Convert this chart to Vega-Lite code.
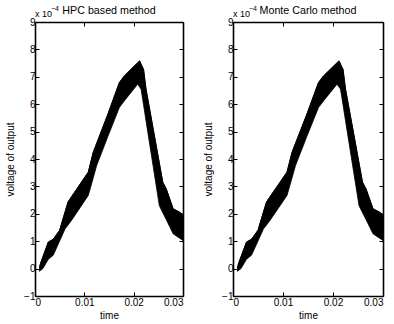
{
  "$schema": "https://vega.github.io/schema/vega-lite/v6.json",
  "padding": {"left": 5, "top": 5, "right": 0, "bottom": 0},
  "spacing": 18,
  "config": {
    "font": "Liberation Sans",
    "view": {"stroke": null},
    "axis": {
      "domainColor": "black", "tickColor": "black", "labelColor": "black", "titleColor": "black",
      "labelFontSize": 10, "titleFontSize": 10, "titleFontWeight": "normal",
      "domainWidth": 1.6, "tickWidth": 1, "tickSize": -4, "grid": false, "labelPadding": 4
    },
    "text": {"font": "Liberation Sans", "fontWeight": "normal", "fill": "black", "baseline": "alphabetic"}
  },
  "datasets": {
    "band": [
      {"t": 0.0009, "hi": 0.02, "lo": -0.10},
      {"t": 0.0011, "hi": 0.18, "lo": -0.07},
      {"t": 0.0016, "hi": 0.43, "lo": 0.00},
      {"t": 0.0027, "hi": 0.97, "lo": 0.34},
      {"t": 0.0037, "hi": 1.07, "lo": 0.49},
      {"t": 0.0050, "hi": 1.40, "lo": 1.01},
      {"t": 0.0061, "hi": 2.07, "lo": 1.45},
      {"t": 0.0067, "hi": 2.43, "lo": 1.59},
      {"t": 0.0074, "hi": 2.62, "lo": 1.76},
      {"t": 0.0108, "hi": 3.52, "lo": 2.67},
      {"t": 0.0118, "hi": 4.24, "lo": 3.31},
      {"t": 0.0125, "hi": 4.57, "lo": 3.76},
      {"t": 0.0147, "hi": 5.60, "lo": 4.79},
      {"t": 0.0171, "hi": 6.79, "lo": 5.88},
      {"t": 0.0181, "hi": 7.03, "lo": 6.12},
      {"t": 0.0208, "hi": 7.51, "lo": 6.73},
      {"t": 0.0212, "hi": 7.58, "lo": 6.63},
      {"t": 0.0215, "hi": 7.46, "lo": 6.55},
      {"t": 0.0220, "hi": 7.27, "lo": 5.98},
      {"t": 0.0225, "hi": 6.55, "lo": 5.40},
      {"t": 0.0252, "hi": 3.85, "lo": 2.30},
      {"t": 0.0259, "hi": 3.15, "lo": 2.04},
      {"t": 0.0266, "hi": 2.91, "lo": 1.79},
      {"t": 0.0280, "hi": 2.18, "lo": 1.27},
      {"t": 0.0293, "hi": 2.06, "lo": 1.11},
      {"t": 0.0300, "hi": 1.97, "lo": 1.03}
    ],
    "titles": [
      {"panel": "HPC", "x": 0.015, "y": 9, "label": "HPC based method"}
    ],
    "titles2": [
      {"panel": "MC", "x": 0.015, "y": 9, "label": "Monte Carlo method"}
    ],
    "exponent": [
      {"x": 0, "y": 9, "base": "x 10", "power": "−4"}
    ]
  },
  "hconcat": [
    {
      "width": 148, "height": 274,
      "layer": [
        {
          "data": {"name": "band"},
          "mark": {"type": "area", "color": "black", "stroke": "black", "strokeWidth": 0.8},
          "encoding": {
            "x": {"field": "t", "type": "quantitative", "scale": {"domain": [0, 0.03], "nice": false, "zero": false},
                  "axis": {"orient": "bottom", "values": [0, 0.01, 0.02, 0.03], "format": "~g", "title": "time", "labelPadding": 5, "titlePadding": 3}},
            "y": {"field": "hi", "type": "quantitative", "scale": {"domain": [-1, 9], "nice": false, "zero": false},
                  "axis": {"orient": "left", "values": [-1, 0, 1, 2, 3, 4, 5, 6, 7, 8, 9], "format": "~g", "title": "voltage of output", "titlePadding": 8}},
            "y2": {"field": "lo"}
          }
        },
        {
          "data": {"name": "band"},
          "mark": {"type": "line", "color": "black", "strokeWidth": 1},
          "encoding": {
            "x": {"field": "t", "type": "quantitative",
                  "axis": {"orient": "top", "values": [0, 0.01, 0.02, 0.03], "labels": false, "title": null}},
            "y": {"field": "hi", "type": "quantitative",
                  "axis": {"orient": "right", "values": [-1, 0, 1, 2, 3, 4, 5, 6, 7, 8, 9], "labels": false, "title": null}}
          }
        },
        {
          "data": {"name": "titles"},
          "mark": {"type": "text", "align": "center", "dy": -8, "fontSize": 10.7},
          "encoding": {
            "x": {"field": "x", "type": "quantitative", "axis": null},
            "y": {"field": "y", "type": "quantitative", "axis": null},
            "text": {"field": "label"}
          }
        },
        {
          "data": {"name": "exponent"},
          "mark": {"type": "text", "align": "left", "dy": -5, "fontSize": 9},
          "encoding": {
            "x": {"field": "x", "type": "quantitative", "axis": null},
            "y": {"field": "y", "type": "quantitative", "axis": null},
            "text": {"field": "base"}
          }
        },
        {
          "data": {"name": "exponent"},
          "mark": {"type": "text", "align": "left", "dx": 16, "dy": -11, "fontSize": 7},
          "encoding": {
            "x": {"field": "x", "type": "quantitative", "axis": null},
            "y": {"field": "y", "type": "quantitative", "axis": null},
            "text": {"field": "power"}
          }
        }
      ],
      "resolve": {"axis": {"x": "independent", "y": "independent"}}
    },
    {
      "width": 150, "height": 274,
      "layer": [
        {
          "data": {"name": "band"},
          "mark": {"type": "area", "color": "black", "stroke": "black", "strokeWidth": 0.8},
          "encoding": {
            "x": {"field": "t", "type": "quantitative", "scale": {"domain": [0, 0.03], "nice": false, "zero": false},
                  "axis": {"orient": "bottom", "values": [0, 0.01, 0.02, 0.03], "format": "~g", "title": "time", "labelPadding": 5, "titlePadding": 3}},
            "y": {"field": "hi", "type": "quantitative", "scale": {"domain": [-1, 9], "nice": false, "zero": false},
                  "axis": {"orient": "left", "values": [-1, 0, 1, 2, 3, 4, 5, 6, 7, 8, 9], "format": "~g", "title": "voltage of output", "titlePadding": 8}},
            "y2": {"field": "lo"}
          }
        },
        {
          "data": {"name": "band"},
          "mark": {"type": "line", "color": "black", "strokeWidth": 1},
          "encoding": {
            "x": {"field": "t", "type": "quantitative",
                  "axis": {"orient": "top", "values": [0, 0.01, 0.02, 0.03], "labels": false, "title": null}},
            "y": {"field": "hi", "type": "quantitative",
                  "axis": {"orient": "right", "values": [-1, 0, 1, 2, 3, 4, 5, 6, 7, 8, 9], "labels": false, "title": null}}
          }
        },
        {
          "data": {"name": "titles2"},
          "mark": {"type": "text", "align": "center", "dy": -8, "fontSize": 10.7},
          "encoding": {
            "x": {"field": "x", "type": "quantitative", "axis": null},
            "y": {"field": "y", "type": "quantitative", "axis": null},
            "text": {"field": "label"}
          }
        },
        {
          "data": {"name": "exponent"},
          "mark": {"type": "text", "align": "left", "dy": -5, "fontSize": 9},
          "encoding": {
            "x": {"field": "x", "type": "quantitative", "axis": null},
            "y": {"field": "y", "type": "quantitative", "axis": null},
            "text": {"field": "base"}
          }
        },
        {
          "data": {"name": "exponent"},
          "mark": {"type": "text", "align": "left", "dx": 16, "dy": -11, "fontSize": 7},
          "encoding": {
            "x": {"field": "x", "type": "quantitative", "axis": null},
            "y": {"field": "y", "type": "quantitative", "axis": null},
            "text": {"field": "power"}
          }
        }
      ],
      "resolve": {"axis": {"x": "independent", "y": "independent"}}
    }
  ]
}
